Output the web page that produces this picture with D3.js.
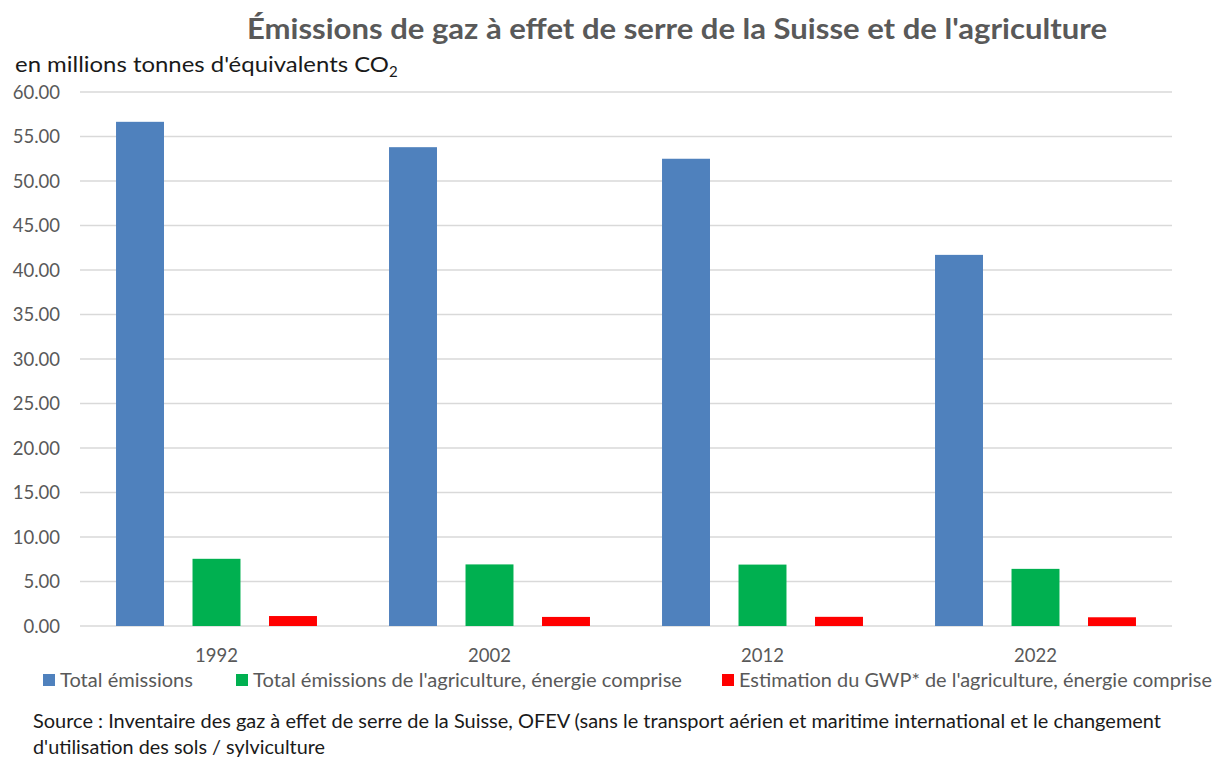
<!DOCTYPE html>
<html><head><meta charset="utf-8">
<script src="https://cdn.jsdelivr.net/npm/d3@7"></script>
<style>body{margin:0;background:#fff}svg{display:block}</style>
</head><body>
<svg id="c" width="1222" height="758"></svg>
<script>
const categories = ["1992","2002","2012","2022"];
const seriesNames = ["Total émissions","Total émissions de l'agriculture, énergie comprise","Estimation du GWP* de l'agriculture, énergie comprise"];
const totalEmissions = [56.65, 53.8, 52.5, 41.7];
const agriEmissions = [7.55, 6.92, 6.9, 6.42];
const gwpAgri = [1.12, 1.02, 1.03, 0.98];
const yTicks = [0,5,10,15,20,25,30,35,40,45,50,55,60];
const colors = ["#4F81BD","#00B050","#FF0000"];
const seriesValues = [totalEmissions, agriEmissions, gwpAgri];

const svg = d3.select("#c");
const font = "Lato, 'Open Sans', sans-serif";
const L = 80, R = 1172, T = 92, B = 626;

const x = d3.scaleBand().domain(categories).range([L, R]).padding(0);
const xs = d3.scaleBand().domain(d3.range(3)).range([0, x.bandwidth()]).paddingInner(0.373).paddingOuter(0.471);
const y = d3.scaleLinear().domain([0, 60]).range([B, T]);

// gridlines
svg.append("g").selectAll("line").data(yTicks).join("line")
  .attr("x1", L).attr("x2", R)
  .attr("y1", d => y(d)).attr("y2", d => y(d))
  .attr("stroke", "#D9D9D9").attr("stroke-width", 1.5);

// y axis labels
const yAxis = d3.axisLeft(y).tickValues(yTicks).tickFormat(d3.format(".2f")).tickSize(0).tickPadding(0);
const ya = svg.append("g").attr("transform", `translate(${L-20},0)`).call(yAxis);
ya.select(".domain").remove();
ya.selectAll("text").attr("font-family", font).attr("font-size", 18.5).attr("fill", "#595959").attr("dy", "0.35em");

// bars
categories.forEach((c, i) => {
  seriesValues.forEach((vals, s) => {
    svg.append("rect")
      .attr("x", x(c) + xs(s)).attr("width", xs.bandwidth())
      .attr("y", y(vals[i])).attr("height", y(0) - y(vals[i]))
      .attr("fill", colors[s]);
  });
});

// x axis labels
const xAxis = d3.axisBottom(x).tickSize(0).tickPadding(0);
const xa = svg.append("g").attr("transform", `translate(0,${B+36})`).call(xAxis);
xa.select(".domain").remove();
xa.selectAll("text").attr("font-family", font).attr("font-size", 18.5).attr("fill", "#595959").attr("dy", 0);

// title
svg.append("text").attr("x", 677).attr("y", 39).attr("text-anchor", "middle")
  .attr("font-family", font).attr("font-weight", "bold").attr("font-size", 29).attr("fill", "#595959")
  .attr("textLength", 860).attr("lengthAdjust", "spacingAndGlyphs")
  .text("Émissions de gaz à effet de serre de la Suisse et de l'agriculture");

// y title
const yt = svg.append("text").attr("x", 15).attr("y", 72)
  .attr("font-family", font).attr("font-size", 22).attr("fill", "#1a1a1a");
yt.append("tspan").attr("textLength", 374).attr("lengthAdjust", "spacingAndGlyphs").text("en millions tonnes d'équivalents CO");
yt.append("tspan").attr("font-size", 15).attr("dy", 5).text("2");

// legend
const legX = [43, 236, 722];
const legW = [133, 429, 473];
const lg = svg.append("g");
seriesNames.forEach((n, i) => {
  lg.append("rect").attr("x", legX[i]).attr("y", 674).attr("width", 12).attr("height", 12).attr("fill", colors[i]);
  lg.append("text").attr("x", legX[i] + 17).attr("y", 687)
    .attr("font-family", font).attr("font-size", 18.5).attr("fill", "#595959")
    .attr("textLength", legW[i]).attr("lengthAdjust", "spacingAndGlyphs").text(n);
});

// source
const src = ["Source : Inventaire des gaz à effet de serre de la Suisse, OFEV (sans le transport aérien et maritime international et le changement",
             "d'utilisation des sols / sylviculture"];
const srcW = [1128, 292];
src.forEach((t, i) => {
  svg.append("text").attr("x", 33).attr("y", 728 + i * 26)
    .attr("font-family", font).attr("font-size", 18.5).attr("fill", "#1a1a1a")
    .attr("textLength", srcW[i]).attr("lengthAdjust", "spacingAndGlyphs").text(t);
});
</script>
</body></html>
